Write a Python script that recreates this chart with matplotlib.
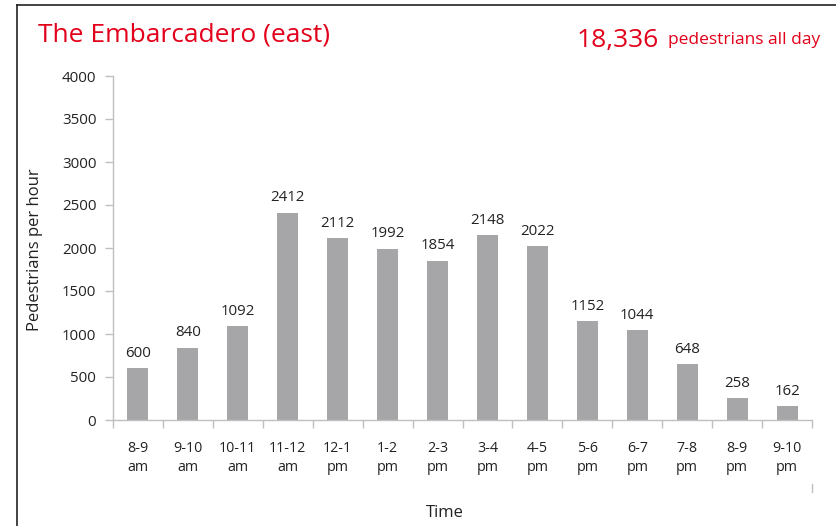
import matplotlib
matplotlib.use("Agg")
import matplotlib.pyplot as plt
from matplotlib.lines import Line2D
import numpy as np

categories = ["8-9\nam", "9-10\nam", "10-11\nam", "11-12\nam", "12-1\npm", "1-2\npm",
              "2-3\npm", "3-4\npm", "4-5\npm", "5-6\npm", "6-7\npm", "7-8\npm",
              "8-9\npm", "9-10\npm"]
values = [600, 840, 1092, 2412, 2112, 1992, 1854, 2148, 2022, 1152, 1044, 648, 258, 162]
yticks = [0, 500, 1000, 1500, 2000, 2500, 3000, 3500, 4000]

plt.rcParams['font.family'] = ['Open Sans', 'DejaVu Sans']
RED = '#e2001a'
GREY = '#a6a6a8'
AX = '#bfbfbf'

fig = plt.figure(figsize=(8.36, 5.26), dpi=100)
ax = fig.add_axes([113/836, 1-420/526, (812-113)/836, (420-76)/526])

x = np.arange(len(values))
ax.bar(x, values, width=0.42, color=GREY)
for xi, v in zip(x, values):
    ax.text(xi, v + 85, str(v), ha='center', va='bottom', fontsize=10.8, color='#222222')

ax.set_xlim(-0.5, len(values) - 0.5)
ax.set_ylim(0, 4000)
ax.set_yticks(yticks)
ax.set_yticklabels([str(t) for t in yticks], fontsize=10.8, color='#222222')
ax.set_xticks(x)
ax.set_xticklabels(categories, fontsize=10.3, color='#222222', linespacing=1.35)
ax.tick_params(axis='x', length=0, pad=15)
ax.set_xticks(np.arange(-0.5, len(values), 1), minor=True)
ax.tick_params(axis='x', which='minor', length=6, color=AX, width=1)
ax.tick_params(axis='y', length=6, color=AX, width=1, pad=6)

for s in ['top', 'right']:
    ax.spines[s].set_visible(False)
for s in ['left', 'bottom']:
    ax.spines[s].set_color(AX)
    ax.spines[s].set_linewidth(1)

fig.text(35/836, 1-250/526, "Pedestrians per hour", ha='center', va='center', rotation=90,
         fontsize=12, color='#222222')
fig.text(445/836, 1-513/526, "Time", ha='center', va='center', fontsize=12, color='#222222')

fig.text(38/836, 1-35/526, "The Embarcadero (east)", ha='left', va='center',
         fontsize=19, color=RED)
fig.text(577/836, 1-40/526, "18,336", ha='left', va='center', fontsize=19, color=RED)
fig.text(820/836, 1-40/526, "pedestrians all day", ha='right', va='center', fontsize=12.5, color=RED)

# frame lines
fig.add_artist(Line2D([17/836, 1.0], [1-5/526, 1-5/526], color='#222222', lw=1.2))
fig.add_artist(Line2D([17/836, 17/836], [1-5/526, 0.0], color='#222222', lw=1.2))
fig.add_artist(Line2D([812/836, 812/836], [1-484/526, 1-492/526], color=AX, lw=1))

fig.savefig("out.png", dpi=100)
